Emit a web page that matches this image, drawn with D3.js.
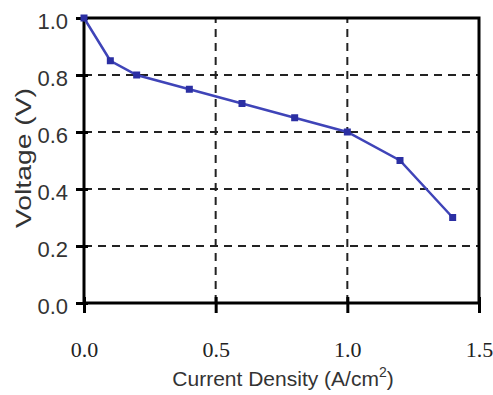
<!DOCTYPE html>
<html><head><meta charset="utf-8">
<script src="https://cdn.jsdelivr.net/npm/d3@7"></script>
<style>body{margin:0;background:#fff}svg{display:block}</style>
</head><body>
<svg id="c" width="493" height="395"></svg>
<script>
const currentDensity = [0.0, 0.1, 0.2, 0.4, 0.6, 0.8, 1.0, 1.2, 1.4];
const voltage = [1.0, 0.85, 0.80, 0.75, 0.70, 0.65, 0.60, 0.50, 0.30];
const xTicks = [0.0, 0.5, 1.0, 1.5];
const yTicks = [0.0, 0.2, 0.4, 0.6, 0.8, 1.0];

const svg = d3.select("#c");
const L = 84, R = 479, T = 18, B = 303;
const x = d3.scaleLinear().domain([0, 1.5]).range([L, R]);
const y = d3.scaleLinear().domain([0, 1.0]).range([B, T]);

// grid
svg.append("g").selectAll("line").data(yTicks.filter(d => d > 0 && d < 1)).join("line")
  .attr("x1", L).attr("x2", R).attr("y1", d => y(d)).attr("y2", d => y(d))
  .attr("stroke", "#222").attr("stroke-width", 2).attr("stroke-dasharray", "8,6");
svg.append("g").selectAll("line").data(xTicks.filter(d => d > 0 && d < 1.5)).join("line")
  .attr("y1", B).attr("y2", T).attr("x1", d => x(d)).attr("x2", d => x(d))
  .attr("stroke", "#222").attr("stroke-width", 2).attr("stroke-dasharray", "8,6");

// frame
svg.append("rect").attr("x", L).attr("y", T).attr("width", R - L).attr("height", B - T)
  .attr("fill", "none").attr("stroke", "#000").attr("stroke-width", 3);

// axes via d3
const yAxis = d3.axisLeft(y).tickValues(yTicks).tickFormat(d3.format(".1f")).tickSize(0).tickPadding(16);
const gy = svg.append("g").attr("transform", `translate(${L},0)`).call(yAxis);
gy.select(".domain").remove();
gy.selectAll("text").attr("font-family", "Liberation Sans, Arial, sans-serif")
  .attr("font-size", 22).attr("fill", "#333").attr("dy", "0.48em");
gy.selectAll(".tick").append("line").attr("x1", -8).attr("x2", 4).attr("stroke", "#000").attr("stroke-width", 3);

const xAxis = d3.axisBottom(x).tickValues(xTicks).tickFormat(d3.format(".1f")).tickSize(0).tickPadding(38);
const gx = svg.append("g").attr("transform", `translate(0,${B})`).call(xAxis);
gx.select(".domain").remove();
gx.selectAll("text").attr("font-family", "Liberation Serif, Times New Roman, serif")
  .attr("font-size", 22).attr("fill", "#222");
gx.selectAll(".tick").append("line").attr("y1", -6).attr("y2", 10).attr("stroke", "#000").attr("stroke-width", 3);

// line
svg.append("path").datum(currentDensity.map((d, i) => [d, voltage[i]]))
  .attr("d", d3.line().x(d => x(d[0])).y(d => y(d[1])))
  .attr("fill", "none").attr("stroke", "#3f44b8").attr("stroke-width", 2.5);
svg.append("g").selectAll("rect").data(currentDensity.map((d, i) => [d, voltage[i]])).join("rect")
  .attr("x", d => x(d[0]) - 3.5).attr("y", d => y(d[1]) - 3.5).attr("width", 7).attr("height", 7)
  .attr("fill", "#2b2fa3");

// titles
const xt = svg.append("text").attr("x", 283).attr("y", 386).attr("text-anchor", "middle")
  .attr("font-family", "Liberation Sans, Arial, sans-serif").attr("font-size", 21).attr("fill", "#333");
xt.append("tspan").text("Current Density (A/cm");
xt.append("tspan").text("2").attr("font-size", 14).attr("dy", -9);
xt.append("tspan").text(")").attr("dy", 9);

svg.append("text").attr("transform", "translate(31,158) rotate(-90)").attr("text-anchor", "middle")
  .attr("font-family", "Liberation Sans, Arial, sans-serif").attr("font-size", 22).attr("fill", "#333")
  .attr("textLength", 140).attr("lengthAdjust", "spacingAndGlyphs")
  .text("Voltage (V)");
</script>
</body></html>
